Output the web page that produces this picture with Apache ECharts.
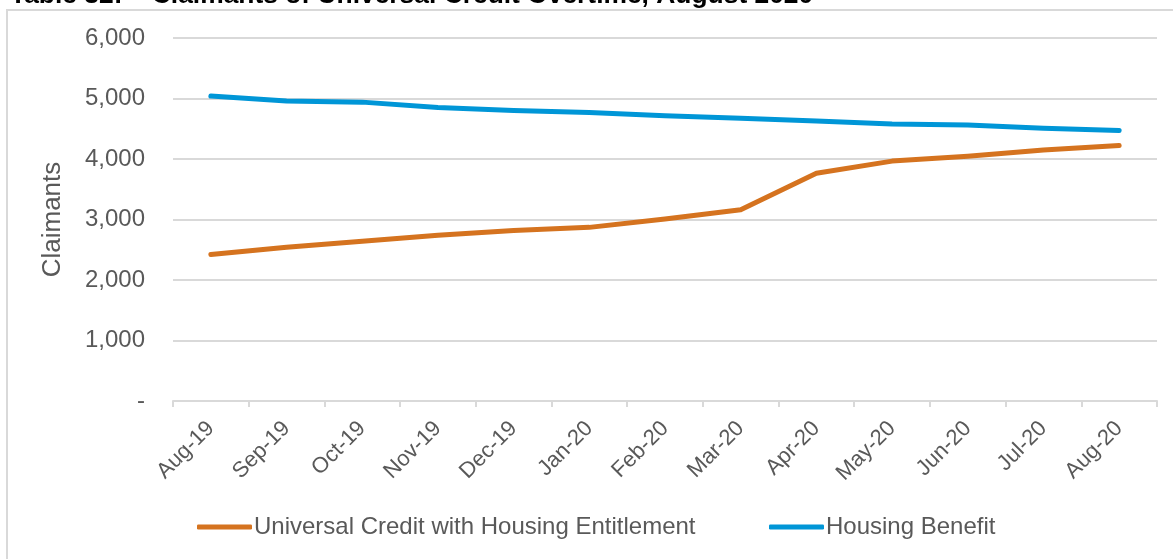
<!DOCTYPE html>
<html>
<head>
<meta charset="utf-8">
<script src="https://cdn.jsdelivr.net/npm/echarts@6/dist/echarts.min.js"></script>
<style>
html,body{margin:0;padding:0;background:#fff;}
#chart{width:1173px;height:559px;}
</style>
</head>
<body>
<div id="chart"></div>
<script>
const titleText = 'Table 32:    Claimants of Universal Credit Overtime, August 2020';
const yAxisName = 'Claimants';
const categories = ['Aug-19','Sep-19','Oct-19','Nov-19','Dec-19','Jan-20','Feb-20','Mar-20','Apr-20','May-20','Jun-20','Jul-20','Aug-20'];
const ucName = 'Universal Credit with Housing Entitlement';
const ucValues = [2420, 2540, 2640, 2740, 2820, 2870, 3010, 3160, 3765, 3965, 4045, 4150, 4225];
const hbName = 'Housing Benefit';
const hbValues = [5040, 4960, 4940, 4850, 4800, 4770, 4715, 4675, 4630, 4580, 4560, 4510, 4470];

const ORANGE = '#D5731F';
const BLUE = '#0096D7';
const TXT = '#595959';
const GRID = '#D9D9D9';
const FONT = 'Liberation Sans, Arial, sans-serif';

const chart = echarts.init(document.getElementById('chart'));
chart.setOption({
  backgroundColor: '#fff',
  animation: false,
  title: {
    text: titleText,
    left: 5, top: -22,
    textStyle: {fontFamily: FONT, fontWeight: 'bold', fontSize: 26.4, color: '#000'}
  },
  graphic: [{
    type: 'rect', silent: true, z: -1,
    shape: {x: 7, y: 10, width: 1300, height: 700},
    style: {fill: 'none', stroke: GRID, lineWidth: 2}
  }],
  grid: {left: 173, right: 16, top: 38, bottom: 158, containLabel: false},
  legend: [{
    data: [ucName], left: 192, top: 510,
    icon: 'roundRect', itemWidth: 55, itemHeight: 5,
    textStyle: {fontFamily: FONT, fontSize: 24, color: TXT, padding: [0,0,0,-3]}
  }, {
    data: [hbName], left: 764, top: 510,
    icon: 'roundRect', itemWidth: 55, itemHeight: 5,
    textStyle: {fontFamily: FONT, fontSize: 24, color: TXT, padding: [0,0,0,-3]}
  }],
  xAxis: {
    type: 'category', data: categories, boundaryGap: true,
    axisLine: {lineStyle: {color: GRID, width: 2}},
    axisTick: {show: true, alignWithLabel: false, length: 6, lineStyle: {color: GRID, width: 2}},
    axisLabel: {interval: 0, rotate: 45, margin: 24, fontFamily: FONT, fontSize: 22, color: TXT}
  },
  yAxis: {
    type: 'value', min: 0, max: 6000, interval: 1000,
    name: yAxisName, nameLocation: 'middle', nameGap: 107, nameRotate: 90,
    nameTextStyle: {fontFamily: FONT, fontSize: 26, color: TXT},
    axisLine: {show: false}, axisTick: {show: false},
    splitLine: {lineStyle: {color: GRID, width: 2}},
    axisLabel: {
      margin: 28, fontFamily: FONT, fontSize: 24, color: TXT,
      formatter: v => v === 0 ? '-' : v.toLocaleString('en-US')
    }
  },
  series: [{
    name: ucName, type: 'line', data: ucValues, symbol: 'none',
    lineStyle: {color: ORANGE, width: 5, cap: 'round', join: 'round'},
    itemStyle: {color: ORANGE}
  }, {
    name: hbName, type: 'line', data: hbValues, symbol: 'none',
    lineStyle: {color: BLUE, width: 5, cap: 'round', join: 'round'},
    itemStyle: {color: BLUE}
  }]
});
</script>
</body>
</html>
